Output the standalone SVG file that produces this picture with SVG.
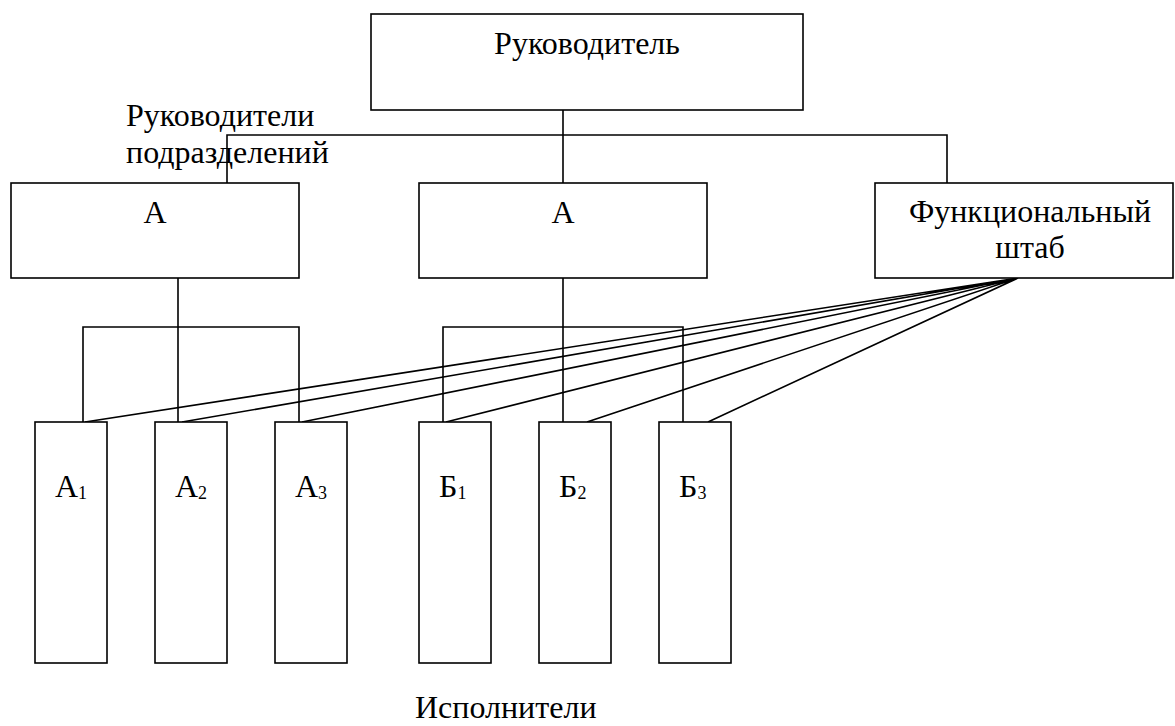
<svg xmlns="http://www.w3.org/2000/svg" width="1175" height="726" viewBox="0 0 1175 726">
<style>
.box{fill:#fff;stroke:#000;stroke-width:1.6}
.ln{fill:none;stroke:#000;stroke-width:1.6}
text{font-family:"Liberation Serif","Times New Roman",serif;font-size:32px;fill:#000}
.c{text-anchor:middle}
.sub{font-size:18px}
</style>
<rect width="1175" height="726" fill="#fff"/>
<g id="connectors">
<path class="ln" d="M563,110 V183 M227,183 V135 H947 V183"/>
<path class="ln" d="M178,278 V422 M83,422 V327 H299 V422"/>
<path class="ln" d="M563,278 V422 M443,422 V327 H683 V422"/>
<path class="ln" d="M1018,278 L85,422 M1018,278 L182,422 M1018,278 L302,422 M1018,278 L446,422 M1018,278 L587,422 M1018,278 L708,422"/>
</g>
<g id="head"><rect class="box" x="371" y="14" width="432" height="96"/><text class="c" x="587" y="54">Руководитель</text></g>
<g id="label-heads"><text x="126" y="126">Руководители</text><text x="126" y="163">подразделений</text></g>
<g id="divA"><rect class="box" x="11" y="183" width="288" height="95"/><text class="c" x="155" y="223">А</text></g>
<g id="divB"><rect class="box" x="419" y="183" width="288" height="95"/><text class="c" x="563" y="223">А</text></g>
<g id="staff"><rect class="box" x="875" y="183" width="298" height="95"/><text class="c" x="1030" y="222">Функциональный</text><text class="c" x="1030" y="258">штаб</text></g>
<g id="A1"><rect class="box" x="35" y="422" width="72" height="241"/><text x="55" y="497">А<tspan class="sub" dy="2">1</tspan></text></g>
<g id="A2"><rect class="box" x="155" y="422" width="72" height="241"/><text x="175" y="497">А<tspan class="sub" dy="2">2</tspan></text></g>
<g id="A3"><rect class="box" x="275" y="422" width="72" height="241"/><text x="295" y="497">А<tspan class="sub" dy="2">3</tspan></text></g>
<g id="B1"><rect class="box" x="419" y="422" width="72" height="241"/><text x="439" y="497">Б<tspan class="sub" dy="2">1</tspan></text></g>
<g id="B2"><rect class="box" x="539" y="422" width="72" height="241"/><text x="559" y="497">Б<tspan class="sub" dy="2">2</tspan></text></g>
<g id="B3"><rect class="box" x="659" y="422" width="72" height="241"/><text x="679" y="497">Б<tspan class="sub" dy="2">3</tspan></text></g>
<g id="label-exec"><text x="415" y="718">Исполнители</text></g>
</svg>
